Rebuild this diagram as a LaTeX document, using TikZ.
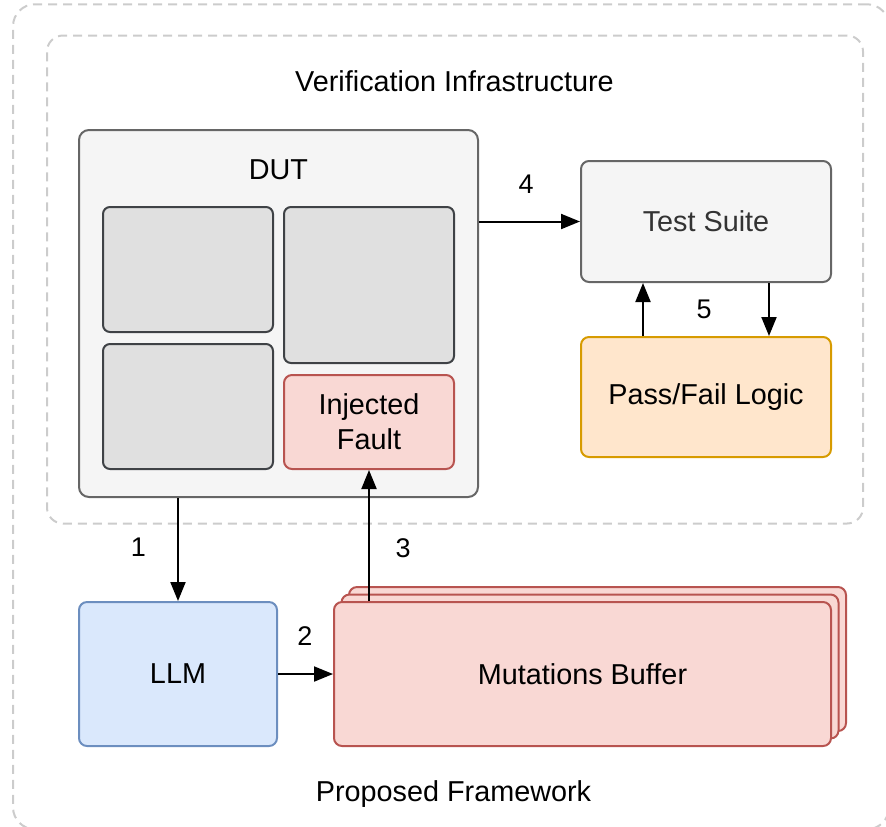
\documentclass[tikz,border=0pt]{standalone}
\usepackage{fontspec}
\setmainfont{Liberation Sans}
\usetikzlibrary{arrows.meta,calc}
\definecolor{dashgray}{HTML}{CCCCCC}
\definecolor{dutfill}{HTML}{F5F5F5}
\definecolor{dutline}{HTML}{666666}
\definecolor{subfill}{HTML}{E0E0E0}
\definecolor{subline}{HTML}{3F4246}
\definecolor{redfill}{HTML}{F9D8D4}
\definecolor{redline}{HTML}{B85450}
\definecolor{bluefill}{HTML}{DAE8FC}
\definecolor{blueline}{HTML}{6C8EBF}
\definecolor{orangefill}{HTML}{FFE6CC}
\definecolor{orangeline}{HTML}{D79B00}
\definecolor{tstext}{HTML}{333333}
\tikzset{
  maintext/.style={font=\fontsize{14.4}{17.5}\selectfont},
  numtext/.style={font=\fontsize{13.5}{15}\selectfont, inner sep=0pt, anchor=base},
  container/.style={draw=dashgray, line width=1pt, dash pattern=on 4.5pt off 3pt, inner sep=0pt},
  box/.style={line width=1pt, inner sep=0pt, rounded corners=4pt, align=center, maintext},
  dutbox/.style={box, draw=dutline, fill=dutfill},
  subbox/.style={box, draw=subline, fill=subfill, rounded corners=3.5pt},
  redbox/.style={box, draw=redline, fill=redfill},
  bluebox/.style={box, draw=blueline, fill=bluefill},
  orangebox/.style={box, draw=orangeline, fill=orangefill},
  conn/.style={line width=1pt, -{Triangle[length=9.5pt,width=7.5pt]}},
}
\begin{document}
\begin{tikzpicture}[x=0.5pt,y=-0.5pt]
\useasboundingbox (0,0) rectangle (886,826);
% outer and inner containers
\node[container, rounded corners=11pt, minimum width=438pt, minimum height=412.5pt] (outer) at (451,416.75) {};
\node[container, rounded corners=8pt, minimum width=408pt, minimum height=244pt] (inner) at (455,279.5) {};
\node[maintext, inner sep=0pt, anchor=base] (vilabel) at (454.5,91.7) {Verification Infrastructure};
\node[maintext, inner sep=0pt, anchor=base] (pflabel) at (453.5,801.7) {Proposed Framework};
% DUT
\node[dutbox, rounded corners=5pt, minimum width=199.5pt, minimum height=183.5pt] (dut) at (278.5,313.5) {};
\node[maintext, inner sep=0pt, anchor=base] (dutlabel) at (278.5,179.5) {DUT};
\node[subbox, minimum width=85pt, minimum height=62.5pt] (tl) at (188,269.5) {};
\node[subbox, minimum width=85pt, minimum height=62.5pt] (bl) at (188,406.5) {};
\node[subbox, minimum width=85pt, minimum height=78pt] (tr) at (369,285) {};
\node[redbox, minimum width=85pt, minimum height=47pt] (if) at (369,422) {Injected\\Fault};
% Test suite and pass/fail
\node[dutbox, text=tstext, minimum width=125pt, minimum height=60.5pt] (ts) at (706,221.5) {Test Suite};
\node[orangebox, minimum width=125pt, minimum height=60pt] (pf) at (706,397) {Pass/Fail Logic};
% LLM
\node[bluebox, minimum width=99pt, minimum height=72pt] (llm) at (178,674) {LLM};
% Mutations buffer stack
\node[redbox, minimum width=248.5pt, minimum height=72pt] (mb3) at (597.5,659) {};
\node[redbox, minimum width=248.5pt, minimum height=72pt] (mb2) at (590,666.5) {};
\node[redbox, minimum width=248.5pt, minimum height=72pt] (mb) at (582.5,674) {Mutations Buffer};
% connectors
\draw[conn] (dut.south -| llm.north) -- (llm.north);
\draw[conn] (llm.east) -- (mb.west);
\draw[conn] (mb.north -| if.south) -- (if.south);
\draw[conn] (dut.east |- ts.west) -- (ts.west);
\draw[conn] ($(pf.north west)!0.25!(pf.north east)$) -- ($(ts.south west)!0.25!(ts.south east)$);
\draw[conn] ($(ts.south west)!0.75!(ts.south east)$) -- ($(pf.north west)!0.75!(pf.north east)$);
% labels
\node[numtext] (n1) at (138.5,556.7) {1};
\node[numtext] (n2) at (305,645) {2};
\node[numtext] (n3) at (403,557) {3};
\node[numtext] (n4) at (526,193.3) {4};
\node[numtext] (n5) at (704,318.3) {5};
\end{tikzpicture}
\end{document}
